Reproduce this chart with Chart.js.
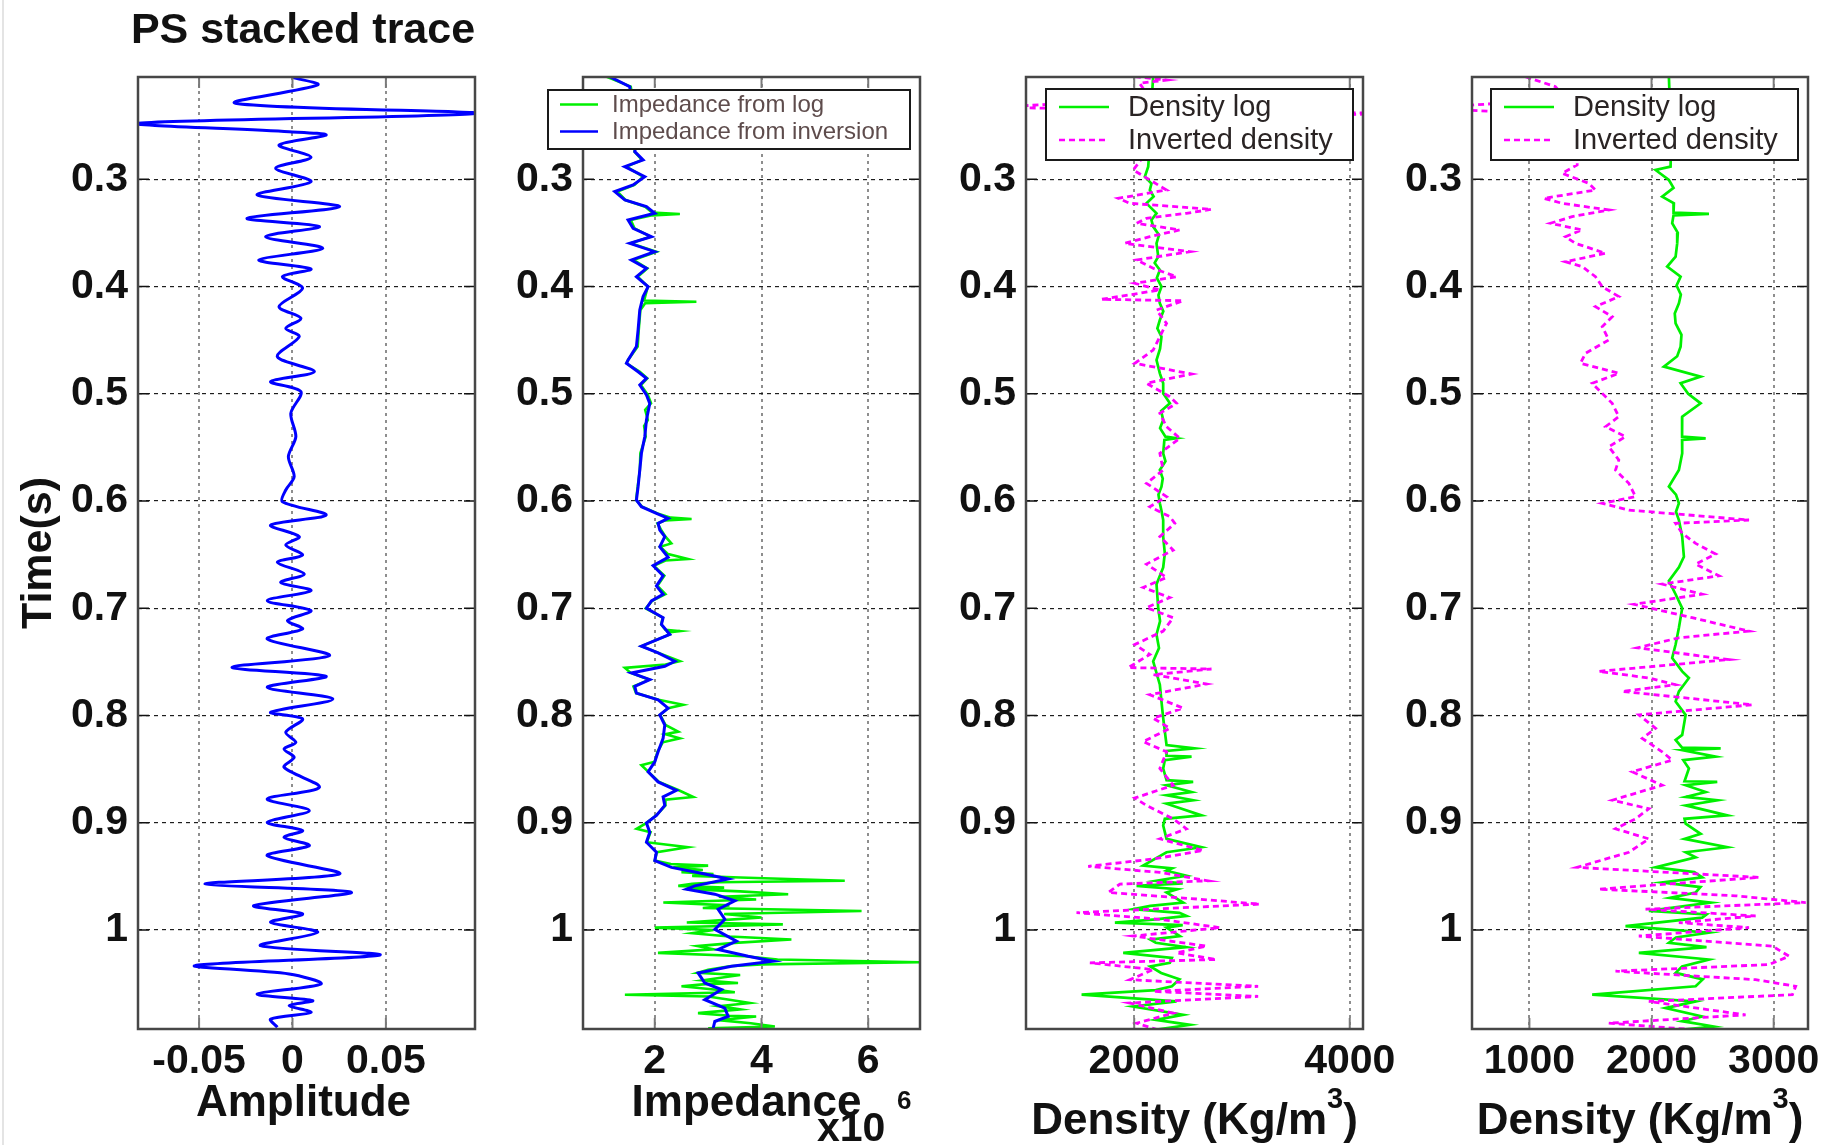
<!DOCTYPE html>
<html>
<head>
<meta charset="utf-8">
<script src="https://cdn.jsdelivr.net/npm/chart.js@4.4.1/dist/chart.umd.min.js"></script>
<style>
  html, body { margin: 0; padding: 0; background: #fff; }
  body { width: 1835px; height: 1145px; position: relative; overflow: hidden; }
  canvas { position: absolute; top: 0; }
  .edge { position: absolute; left: 2px; top: 0; width: 2px; height: 1145px; background: #e4e4e4; }
</style>
</head>
<body>
<div class="edge"></div>
<canvas id="ampChart"></canvas>
<canvas id="impChart"></canvas>
<canvas id="denChart"></canvas>
<canvas id="den2Chart"></canvas>
<script>
// ---- data: [time (s), value] ----
const timeTicks = [0.3, 0.4, 0.5, 0.6, 0.7, 0.8, 0.9, 1.0];
const timeRange = [0.2046, 1.0923];

const ampTicks = [-0.05, 0, 0.05];
const ampRange = [-0.0827, 0.0977];
const psTrace = [
  [0.205,0],[0.212,0.0135],[0.229,-0.0306],[0.2385,0.098],[0.2478,-0.0836],[0.2556,-0.0018],[0.2587,0.018],
  [0.268,-0.0072],[0.2795,0.0099],[0.2897,-0.009],[0.3022,0.0099],[0.3146,-0.0189],[0.3255,0.0252],
  [0.3364,-0.0243],[0.3441,0.0144],[0.3535,-0.0144],[0.3643,0.0162],[0.3752,-0.018],[0.3836,0.0099],
  [0.3908,-0.0054],[0.4016,0.0054],[0.4187,-0.0072],[0.4296,0.0045],[0.4389,-0.0036],[0.4467,0.0036],
  [0.4654,-0.0081],[0.4794,0.0117],[0.4887,-0.0117],[0.498,0.0045],[0.5182,-0.0009],[0.54,0.0018],
  [0.5586,-0.0022],[0.5773,0.0009],[0.5897,-0.0036],[0.6006,-0.0054],[0.613,0.018],[0.6224,-0.0117],
  [0.6332,0.0036],[0.641,-0.0036],[0.6503,0.0054],[0.6571,-0.0081],[0.668,0.0063],[0.6758,-0.0063],
  [0.6835,0.0099],[0.6929,-0.0135],[0.7022,0.0099],[0.7115,-0.0027],[0.7193,0.0054],[0.7286,-0.0135],
  [0.7441,0.0198],[0.755,-0.0324],[0.7634,0.018],[0.7737,-0.0135],[0.7846,0.0216],[0.797,-0.0117],
  [0.8032,0.0054],[0.8156,-0.0036],[0.825,0.0018],[0.8312,-0.0045],[0.839,0.0009],[0.8483,-0.0045],
  [0.8669,0.0144],[0.8778,-0.0135],[0.8887,0.009],[0.8996,-0.0135],[0.9073,0.0054],[0.9136,-0.0045],
  [0.9213,0.009],[0.9307,-0.0135],[0.9477,0.0252],[0.9571,-0.0468],[0.9648,0.0315],[0.9773,-0.0207],
  [0.985,0.0054],[0.9928,-0.0117],[1.0021,0.0135],[1.0146,-0.0171],[1.0233,0.0468],[1.0332,-0.0522],
  [1.041,-0.0018],[1.0503,0.0153],[1.0597,-0.0189],[1.0659,0.0108],[1.0705,-0.0018],[1.0768,0.0099],
  [1.083,-0.0117],[1.0907,-0.0081]
];

const impTicks = [2, 4, 6];
const impRange = [0.655, 6.97];
const impInversion = [
  [0.2043,1.156],[0.2136,1.531],[0.2447,1.59],[0.26,1.66],[0.2742,1.625],[0.282,1.781],[0.2882,1.438],
  [0.2975,1.8125],[0.3053,1.594],[0.3115,1.25],[0.3193,1.438],[0.3255,1.844],[0.3317,2.0],[0.3379,1.5],
  [0.3457,1.594],[0.3535,1.9375],[0.3597,1.531],[0.3675,2.0],[0.3752,1.5625],[0.383,1.844],[0.3908,1.656],
  [0.4001,1.875],[0.4094,1.781],[0.4219,1.719],[0.4405,1.6875],[0.456,1.656],[0.4685,1.5],[0.4716,1.469],
  [0.4794,1.6875],[0.4856,1.844],[0.4918,1.719],[0.5011,1.844],[0.5089,1.906],[0.5244,1.844],[0.54,1.8125],
  [0.5555,1.75],[0.5711,1.719],[0.5866,1.6875],[0.599,1.656],[0.6053,1.75],[0.6115,2.031],[0.6161,2.25],
  [0.6208,2.0625],[0.627,2.094],[0.6332,2.1875],[0.6426,2.094],[0.6525,2.25],[0.6603,1.969],[0.6697,2.156],
  [0.6791,2.031],[0.6869,2.156],[0.6931,1.9375],[0.7,1.844],[0.7088,2.156],[0.715,2.125],[0.7244,2.281],
  [0.7353,1.75],[0.7416,2.0625],[0.7494,2.375],[0.7541,2.1875],[0.7603,1.5625],[0.7666,1.906],[0.7728,1.625],
  [0.7791,1.656],[0.7853,2.0625],[0.7931,2.25],[0.7994,2.094],[0.8088,2.1875],[0.8213,2.156],[0.8338,2.0625],
  [0.8431,2.0],[0.8525,1.875],[0.8619,2.0625],[0.8697,2.406],[0.8759,2.156],[0.8838,2.1875],[0.8931,2.031],
  [0.9003,1.844],[0.9088,1.906],[0.9181,1.844],[0.9275,2.031],[0.9353,2.0],[0.9416,2.3125],[0.9478,2.9375],
  [0.9525,3.375],[0.9588,2.75],[0.9619,2.594],[0.9666,3.125],[0.9728,3.5],[0.9806,3.1875],[0.99,3.3125],
  [0.9994,3.125],[1.0103,3.531],[1.0181,3.1875],[1.0244,3.75],[1.0291,4.219],[1.0338,3.4375],[1.04,2.8125],
  [1.0494,2.9375],[1.0556,3.25],[1.065,2.9375],[1.0728,3.3125],[1.0806,3.375],[1.0853,3.125],[1.0916,3.094]
];
const impLog = [
  [0.2043,1.1],[0.2136,1.55],[0.26,1.7],[0.2742,1.62],[0.282,1.76],[0.2882,1.47],[0.2975,1.78],[0.3053,1.62],
  [0.3115,1.3],[0.3193,1.45],[0.3255,1.82],[0.331,1.95],[0.3323,2.47],[0.3336,1.95],[0.3379,1.55],[0.3457,1.62],
  [0.3535,1.92],[0.3597,1.55],[0.3675,2.03],[0.3752,1.6],[0.383,1.86],[0.3908,1.68],[0.4001,1.87],[0.413,1.8],
  [0.4142,2.78],[0.4155,1.82],[0.4219,1.73],[0.4405,1.7],[0.456,1.68],[0.4685,1.5],[0.4716,1.47],[0.4794,1.72],
  [0.4856,1.86],[0.4918,1.74],[0.5011,1.87],[0.5089,1.93],[0.515,1.82],[0.5244,1.87],[0.53,1.8],[0.54,1.83],
  [0.5555,1.73],[0.5711,1.72],[0.5866,1.68],[0.599,1.65],[0.6053,1.76],[0.6115,2.05],[0.6155,2.3],[0.6168,2.69],
  [0.618,2.2],[0.6208,2.05],[0.627,2.12],[0.6332,2.2],[0.6395,2.31],[0.6426,2.1],[0.6495,2.25],[0.654,2.62],
  [0.6555,2.2],[0.6603,1.98],[0.6697,2.18],[0.6791,2.05],[0.6869,2.2],[0.6931,1.95],[0.7,1.83],[0.7088,2.15],
  [0.715,2.12],[0.72,2.2],[0.7213,2.47],[0.7226,2.25],[0.7244,2.28],[0.7353,1.75],[0.7416,2.07],[0.7494,2.47],
  [0.7525,2.2],[0.7556,1.44],[0.7603,1.55],[0.7666,1.9],[0.7728,1.6],[0.7791,1.65],[0.7853,2.07],[0.79,2.53],
  [0.7931,2.25],[0.7994,2.1],[0.8088,2.2],[0.815,2.44],[0.8175,2.2],[0.8213,2.47],[0.825,2.15],[0.8338,2.05],
  [0.8431,2.0],[0.8463,1.75],[0.8525,1.88],[0.8619,2.08],[0.8697,2.45],[0.876,2.72],[0.8785,2.2],[0.8838,2.2],
  [0.8931,2.03],[0.9003,1.84],[0.9056,1.66],[0.9088,1.92],[0.9181,1.85],[0.9228,2.62],[0.9275,2.04],[0.9353,2.0],
  [0.9385,2.3],[0.94,3.0],[0.9416,2.35],[0.944,2.9],[0.946,2.5],[0.9478,3.1],[0.9495,2.7],[0.951,3.6],
  [0.9541,5.56],[0.9555,3.2],[0.957,2.7],[0.9588,2.44],[0.9605,3.3],[0.9619,2.6],[0.964,3.6],[0.9666,4.5],
  [0.969,3.2],[0.9715,3.9],[0.9744,2.16],[0.977,3.4],[0.9795,2.9],[0.9822,5.875],[0.985,3.3],[0.9884,4.0],
  [0.991,3.2],[0.993,2.6],[0.9947,4.4],[0.9965,3.1],[0.9978,2.0],[1.0,3.1],[1.003,2.7],[1.006,3.4],
  [1.0088,4.56],[1.012,3.5],[1.015,2.8],[1.018,3.1],[1.0213,2.06],[1.0244,3.7],[1.0275,4.3],[1.03,6.97],
  [1.032,4.0],[1.0338,3.4],[1.037,3.0],[1.04,2.8],[1.042,3.6],[1.044,3.3],[1.047,2.9],[1.0494,3.56],
  [1.0505,2.95],[1.0525,2.5],[1.056,3.2],[1.058,3.5],[1.0603,1.44],[1.062,3.0],[1.065,3.4],[1.0681,3.78],
  [1.071,3.2],[1.074,3.6],[1.0775,2.81],[1.08,3.4],[1.0806,3.9],[1.084,3.2],[1.087,3.8],[1.09,4.25],[1.0916,3.0]
];

const denTicks = [2000, 4000];
const denRange = [996, 4123];
const denLog = [
  [0.2043,2176],[0.2291,2160],[0.2602,2150],[0.2882,2130],[0.2975,2099],[0.304,2160],[0.31,2145],[0.316,2180],
  [0.3224,2114],[0.3317,2207],[0.338,2160],[0.3441,2176],[0.352,2230],[0.3597,2207],[0.3721,2223],[0.378,2190],
  [0.3846,2238],[0.392,2210],[0.4001,2253],[0.408,2225],[0.4156,2238],[0.423,2270],[0.4312,2238],[0.439,2215],
  [0.4467,2253],[0.458,2240],[0.4685,2207],[0.4809,2238],[0.4902,2269],[0.4996,2269],[0.5089,2331],[0.516,2250],
  [0.5244,2269],[0.532,2240],[0.54,2290],[0.5415,2392],[0.5431,2280],[0.5555,2269],[0.563,2290],[0.5711,2238],
  [0.579,2265],[0.5866,2253],[0.594,2225],[0.6021,2238],[0.61,2255],[0.6177,2269],[0.6332,2269],[0.6488,2284],
  [0.6619,2269],[0.6775,2207],[0.7,2223],[0.712,2240],[0.7244,2207],[0.737,2230],[0.7494,2176],[0.7713,2238],
  [0.7869,2253],[0.8025,2269],[0.8275,2300],[0.8306,2562],[0.8331,2300],[0.8375,2300],[0.8384,2532],[0.8416,2284],
  [0.8494,2269],[0.8603,2300],[0.8619,2547],[0.865,2300],[0.8713,2532],[0.8744,2300],[0.879,2547],[0.8822,2300],
  [0.8931,2624],[0.8963,2284],[0.9025,2269],[0.915,2300],[0.9228,2624],[0.9275,2300],[0.94,2083],[0.9425,2350],
  [0.9447,2300],[0.9494,2485],[0.9541,2200],[0.9565,2450],[0.9588,2022],[0.962,2400],[0.965,2300],[0.9744,2454],
  [0.9775,2150],[0.9806,1991],[0.984,2420],[0.9869,2485],[0.99,2200],[0.9931,1821],[0.9955,2450],[0.9978,2300],
  [1.0056,2423],[1.009,2150],[1.0119,2200],[1.016,2480],[1.0213,1898],[1.026,2350],[1.0306,2331],[1.034,2150],
  [1.04,2250],[1.046,2420],[1.0525,2350],[1.056,2200],[1.0603,1512],[1.0666,2393],[1.0713,1991],[1.0791,2454],
  [1.0838,2200],[1.0884,2516],[1.0947,2083]
];
const denInverted = [
  [0.2043,2006],[0.2074,2300],[0.2105,2050],[0.225,2150],[0.2329,700],[0.2385,4400],[0.245,2100],[0.27,2150],
  [0.2913,1991],[0.3006,2145],[0.31,2300],[0.3177,1852],[0.3224,1960],[0.328,2717],[0.3317,2485],[0.3364,2114],
  [0.341,2022],[0.3472,2423],[0.3535,2145],[0.3597,1913],[0.3675,2516],[0.3752,2022],[0.383,2176],[0.3908,2393],
  [0.397,2006],[0.4032,2238],[0.4119,1697],[0.4132,2454],[0.4219,2207],[0.4343,2300],[0.4467,2238],[0.4592,2176],
  [0.4716,2006],[0.4815,2532],[0.4902,2114],[0.5027,2331],[0.5089,2393],[0.5182,2238],[0.5307,2300],[0.5415,2423],
  [0.5555,2238],[0.5711,2269],[0.5835,2114],[0.5959,2300],[0.6053,2145],[0.6146,2331],[0.6208,2377],[0.6332,2238],
  [0.6457,2362],[0.6588,2114],[0.6713,2300],[0.6806,2083],[0.69,2331],[0.6994,2114],[0.7088,2362],[0.7213,2269],
  [0.7338,2006],[0.7431,2145],[0.7553,1944],[0.7566,2717],[0.7619,2176],[0.7706,2671],[0.7806,2145],[0.7931,2454],
  [0.8025,2176],[0.8119,2331],[0.8244,2083],[0.8338,2300],[0.8494,2238],[0.865,2362],[0.8769,2006],[0.8838,2114],
  [0.8963,2362],[0.9056,2485],[0.915,2238],[0.9259,2640],[0.9338,2176],[0.9406,1573],[0.9463,2238],[0.9541,2686],
  [0.9572,1867],[0.965,1759],[0.9713,2609],[0.9759,3165],[0.9838,1465],[0.99,2238],[0.9978,2794],[1.0056,1991],
  [1.015,2671],[1.0213,2393],[1.0275,2763],[1.0306,1589],[1.0369,2176],[1.0463,1960],[1.0525,3150],[1.0572,2176],
  [1.0619,3150],[1.0681,1960],[1.0775,2362],[1.0869,2022],[1.0947,2269]
];

const den2Ticks = [1000, 2000, 3000];
const den2Range = [530, 3281];
const den2Log = [
  [0.2043,2142],[0.23,2150],[0.26,2160],[0.2882,2156],[0.2913,2033],[0.3006,2142],[0.308,2180],[0.3162,2087],
  [0.3224,2183],[0.3311,2180],[0.3323,2470],[0.3336,2180],[0.341,2169],[0.35,2215],[0.3597,2210],[0.3721,2197],
  [0.3814,2128],[0.3908,2238],[0.399,2205],[0.4075,2240],[0.4156,2224],[0.425,2190],[0.4343,2197],[0.445,2245],
  [0.456,2238],[0.465,2210],[0.4747,2101],[0.484,2402],[0.4902,2238],[0.5,2300],[0.5089,2402],[0.5213,2251],
  [0.54,2250],[0.5415,2443],[0.5431,2250],[0.5555,2251],[0.5711,2224],[0.5866,2142],[0.594,2200],[0.6021,2224],
  [0.61,2200],[0.6177,2224],[0.6332,2251],[0.6519,2265],[0.6619,2224],[0.6744,2142],[0.6869,2197],[0.7,2251],
  [0.7181,2224],[0.7338,2197],[0.7463,2169],[0.7588,2251],[0.765,2306],[0.7775,2224],[0.7869,2197],[0.7994,2279],
  [0.8181,2251],[0.8228,2197],[0.83,2250],[0.8306,2566],[0.8322,2250],[0.8384,2525],[0.8416,2260],[0.8494,2306],
  [0.8613,2270],[0.8619,2538],[0.865,2280],[0.8713,2443],[0.8759,2280],[0.879,2538],[0.8838,2280],[0.8931,2620],
  [0.8963,2270],[0.9009,2279],[0.9103,2402],[0.915,2270],[0.9228,2620],[0.9275,2280],[0.9322,2361],[0.9416,2033],
  [0.946,2350],[0.9509,2415],[0.9556,2087],[0.96,2400],[0.965,2361],[0.97,2150],[0.9744,2484],[0.9822,1978],
  [0.9855,2450],[0.9884,2415],[0.9963,1787],[1.0025,2470],[1.007,2200],[1.0119,2142],[1.016,2450],[1.0213,1896],
  [1.0275,2470],[1.034,2250],[1.04,2197],[1.046,2420],[1.0525,2361],[1.0603,1514],[1.0666,2361],[1.0728,2115],
  [1.0806,2415],[1.085,2250],[1.09,2511],[1.0947,2087]
];
const den2Inverted = [
  [0.2043,967],[0.2136,1213],[0.225,1300],[0.2325,300],[0.2345,300],[0.24,1350],[0.26,1400],[0.2866,1391],
  [0.2944,1268],[0.3037,1486],[0.31,1541],[0.3177,1118],[0.3224,1268],[0.3286,1650],[0.3348,1350],[0.341,1172],
  [0.3472,1432],[0.3535,1295],[0.3597,1377],[0.369,1623],[0.3768,1295],[0.3814,1432],[0.3908,1541],[0.4001,1596],
  [0.4094,1732],[0.4187,1541],[0.4281,1678],[0.4374,1596],[0.4498,1650],[0.4623,1459],[0.4716,1418],[0.4809,1732],
  [0.4902,1514],[0.4996,1596],[0.5089,1678],[0.5213,1732],[0.5307,1623],[0.54,1787],[0.5493,1650],[0.5617,1732],
  [0.5711,1705],[0.5835,1814],[0.5959,1869],[0.6021,1596],[0.6084,1814],[0.6115,2142],[0.6177,2798],[0.6208,2197],
  [0.6301,2251],[0.6395,2361],[0.6494,2525],[0.6588,2361],[0.6697,2552],[0.6775,2087],[0.6869,2415],[0.6963,1855],
  [0.7088,2333],[0.7213,2798],[0.7275,2224],[0.7369,1883],[0.7478,2634],[0.7588,1568],[0.765,1978],[0.7713,2197],
  [0.7775,1760],[0.79,2825],[0.7994,1896],[0.8119,2033],[0.8213,1924],[0.8338,2087],[0.8416,2169],[0.8525,1842],
  [0.865,2087],[0.879,1678],[0.8869,1978],[0.8963,1869],[0.9056,1705],[0.915,1978],[0.9275,1814],[0.9416,1391],
  [0.9509,2880],[0.9619,1568],[0.9681,2688],[0.9744,3262],[0.9806,1951],[0.9869,2852],[0.9931,2224],[0.9978,2798],
  [1.0056,1896],[1.015,2989],[1.0244,3126],[1.0322,2962],[1.0384,1705],[1.0463,2852],[1.0525,3180],[1.0603,3153],
  [1.0666,1978],[1.0791,2770],[1.0869,1650],[1.0931,2361]
];

// ---- layout and style ----
const PAGE_H = 1145;
const AREA_TOP = 77, AREA_BOTTOM = 1029;
const FONT = '"Liberation Sans", Arial, Helvetica, sans-serif';
const GREEN = '#00f000', BLUE = '#0000ff', MAGENTA = '#ff00ff';

const legends = {
  impChart: { w: 362, h: 59, gapR: 10, gapT: 13, rows: [14.5, 41.5], line: [12, 50], textX: 64,
    size: 24, color: '#5e4c4c',
    items: [{ label: 'Impedance from log', color: GREEN, dash: [] },
            { label: 'Impedance from inversion', color: BLUE, dash: [] }] },
  denChart: { w: 307, h: 71, gapR: 10, gapT: 12, rows: [18, 51], line: [13, 63], textX: 82,
    size: 29, color: '#2a2424',
    items: [{ label: 'Density log', color: GREEN, dash: [] },
            { label: 'Inverted density', color: MAGENTA, dash: [6, 4] }] }
};
legends.den2Chart = legends.denChart;

function drawLegend(ctx, a, L) {
  const x0 = a.right - L.gapR - L.w, y0 = a.top + L.gapT;
  ctx.fillStyle = '#fff';
  ctx.fillRect(x0, y0, L.w, L.h);
  ctx.lineWidth = 2;
  ctx.strokeStyle = '#1a1a1a';
  ctx.setLineDash([]);
  ctx.strokeRect(x0, y0, L.w, L.h);
  L.items.forEach((it, i) => {
    const y = y0 + L.rows[i];
    ctx.strokeStyle = it.color;
    ctx.lineWidth = 2.5;
    ctx.setLineDash(it.dash);
    ctx.beginPath();
    ctx.moveTo(x0 + L.line[0], y);
    ctx.lineTo(x0 + L.line[1], y);
    ctx.stroke();
    ctx.setLineDash([]);
    ctx.fillStyle = L.color;
    ctx.font = `${L.size}px ${FONT}`;
    ctx.textAlign = 'left';
    ctx.textBaseline = 'middle';
    ctx.fillText(it.label, x0 + L.textX, y + 1);
  });
}

function densityLabel(ctx, a) {
  const cx = (a.left + a.right) / 2, base = a.bottom + 105;
  const big = `bold 44px ${FONT}`, small = `bold 29px ${FONT}`;
  ctx.font = big; const w1 = ctx.measureText('Density (Kg/m').width, w3 = ctx.measureText(')').width;
  ctx.font = small; const w2 = ctx.measureText('3').width;
  let x = cx - (w1 + w2 + w3) / 2;
  ctx.textAlign = 'left';
  ctx.font = big; ctx.fillText('Density (Kg/m', x, base); x += w1;
  ctx.font = small; ctx.fillText('3', x, base - 26); x += w2;
  ctx.font = big; ctx.fillText(')', x, base);
}

const annotations = {
  ampChart(ctx, a) {
    ctx.textAlign = 'center';
    ctx.font = `bold 43px ${FONT}`;
    ctx.fillText('PS stacked trace', 303, 43);
    ctx.save();
    ctx.translate(51, (a.top + a.bottom) / 2);
    ctx.rotate(-Math.PI / 2);
    ctx.fillText('Time(s)', 0, 0);
    ctx.restore();
    ctx.font = `bold 44px ${FONT}`;
    ctx.fillText('Amplitude', (a.left + a.right) / 2 - 3, a.bottom + 87);
  },
  impChart(ctx, a) {
    ctx.textAlign = 'center';
    ctx.font = `bold 44px ${FONT}`;
    ctx.fillText('Impedance', (a.left + a.right) / 2 - 5, a.bottom + 87);
    ctx.textAlign = 'left';
    ctx.font = `bold 41px ${FONT}`;
    ctx.fillText('x10', a.left + 234, a.bottom + 112);
    ctx.font = `bold 26px ${FONT}`;
    ctx.fillText('6', a.left + 314, a.bottom + 80);
  },
  denChart: densityLabel,
  den2Chart: densityLabel
};

const panelDecor = {
  id: 'panelDecor',
  afterDatasetsDraw(chart) {
    const ctx = chart.ctx, a = chart.chartArea;
    const xs = chart.scales.x, ys = chart.scales.y;
    ctx.save();
    ctx.setLineDash([]);
    ctx.strokeStyle = '#111';
    ctx.lineWidth = 1.6;
    ys.ticks.forEach(t => {
      const y = ys.getPixelForValue(t.value);
      ctx.beginPath();
      ctx.moveTo(a.left, y); ctx.lineTo(a.left + 11, y);
      ctx.moveTo(a.right, y); ctx.lineTo(a.right - 11, y);
      ctx.stroke();
    });
    ctx.strokeStyle = '#7a7a7a';
    ctx.lineWidth = 2;
    xs.ticks.forEach(t => {
      const x = xs.getPixelForValue(t.value);
      ctx.beginPath();
      ctx.moveTo(x, a.top); ctx.lineTo(x, a.top + 11);
      ctx.moveTo(x, a.bottom); ctx.lineTo(x, a.bottom - 11);
      ctx.stroke();
    });
    ctx.strokeStyle = '#474747';
    ctx.lineWidth = 2.5;
    ctx.strokeRect(a.left, a.top, a.right - a.left, a.bottom - a.top);
    const L = legends[chart.canvas.id];
    if (L) drawLegend(ctx, a, L);
    ctx.restore();
  },
  afterDraw(chart) {
    const fn = annotations[chart.canvas.id];
    if (!fn) return;
    const ctx = chart.ctx;
    ctx.save();
    ctx.fillStyle = '#111';
    ctx.textBaseline = 'alphabetic';
    fn(ctx, chart.chartArea);
    ctx.restore();
  }
};

function points(series) {
  return series.map(p => ({ x: p[1], y: p[0] }));
}

function line(label, series, color, width, extra) {
  return Object.assign({
    label, data: points(series), borderColor: color, borderWidth: width,
    showLine: true, pointRadius: 0, fill: false, tension: 0
  }, extra || {});
}

function makePanel(id, left, right, axisW, padR, xRange, xTicks, xFmt, datasets) {
  const canvas = document.getElementById(id);
  const width = axisW + (right - left) + padR;
  canvas.width = width;
  canvas.height = PAGE_H;
  canvas.style.left = (left - axisW) + 'px';
  canvas.style.width = width + 'px';
  canvas.style.height = PAGE_H + 'px';
  const tickFont = { family: FONT, size: 41, weight: 'bold', lineHeight: 1.2 };
  return new Chart(canvas, {
    type: 'scatter',
    data: { datasets },
    options: {
      responsive: false,
      animation: false,
      devicePixelRatio: 1,
      layout: { padding: { top: AREA_TOP, right: padR, left: 0, bottom: 0 } },
      plugins: { legend: { display: false }, tooltip: { enabled: false } },
      scales: {
        x: {
          type: 'linear', position: 'bottom', min: xRange[0], max: xRange[1],
          afterBuildTicks: s => { s.ticks = xTicks.map(v => ({ value: v })); },
          afterFit: s => { s.height = PAGE_H - AREA_BOTTOM; },
          grid: { color: '#8e8e8e', lineWidth: 2, drawTicks: false },
          border: { display: false, dash: [3, 4] },
          ticks: { font: tickFont, color: '#111', padding: 8, maxRotation: 0, autoSkip: false, callback: xFmt }
        },
        y: {
          type: 'linear', position: 'left', reverse: true, min: timeRange[0], max: timeRange[1],
          afterBuildTicks: s => { s.ticks = timeTicks.map(v => ({ value: v })); },
          afterFit: s => { s.width = axisW; },
          grid: { color: '#1e1e1e', lineWidth: 1.2, drawTicks: false },
          border: { display: false, dash: [4, 4] },
          ticks: { font: tickFont, color: '#111', padding: 10, autoSkip: false,
                   callback: v => String(Math.round(v * 10) / 10) }
        }
      }
    },
    plugins: [panelDecor]
  });
}

makePanel('ampChart', 138, 475, 138, 25, ampRange, ampTicks, v => String(v), [
  line('PS stacked trace', psTrace, BLUE, 3, { tension: 0.3 })
]);

makePanel('impChart', 583, 920, 75, 25, impRange, impTicks, v => String(v), [
  line('Impedance from inversion', impInversion, BLUE, 3),
  line('Impedance from log', impLog, GREEN, 2.6)
]);

makePanel('denChart', 1026, 1363, 75, 48, denRange, denTicks, v => String(v), [
  line('Inverted density', denInverted, MAGENTA, 2.8, { borderDash: [6, 4] }),
  line('Density log', denLog, GREEN, 2.7)
]);

makePanel('den2Chart', 1472, 1808, 75, 25, den2Range, den2Ticks, v => String(v), [
  line('Inverted density', den2Inverted, MAGENTA, 2.8, { borderDash: [6, 4] }),
  line('Density log', den2Log, GREEN, 2.7)
]);
</script>
</body>
</html>
